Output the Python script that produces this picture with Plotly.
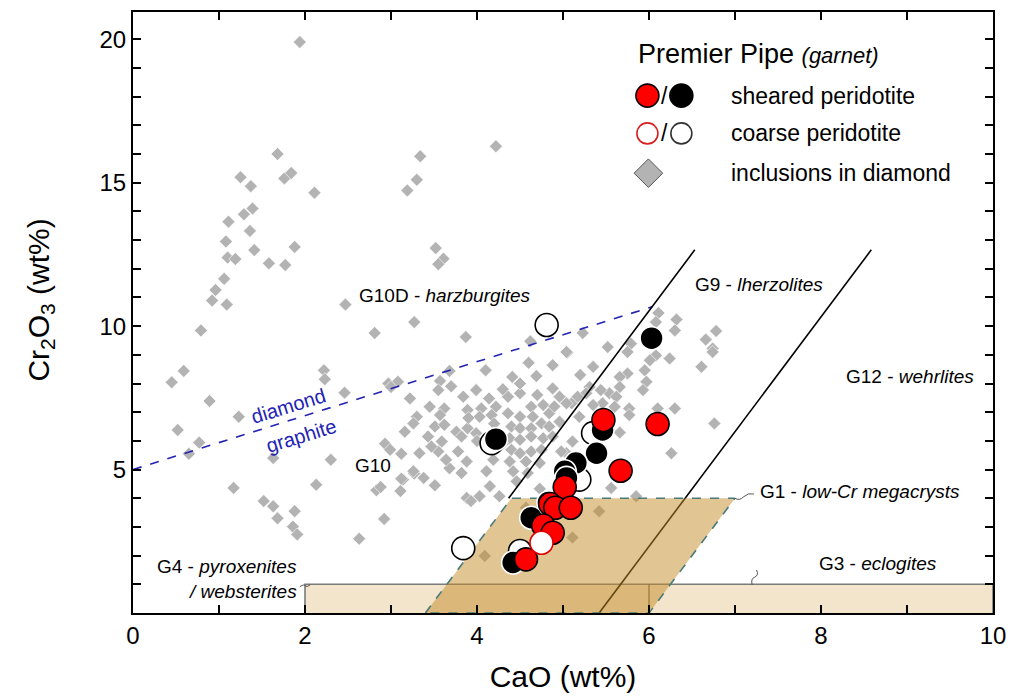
import plotly.graph_objects as go

# ---------------- data ----------------
INC_CAO = [1.94,1.68,1.25,1.37,1.76,1.84,2.11,1.11,1.29,1.39,1.08,1.36,1.10,1.19,1.41,1.58,1.77,1.88,1.06,0.96,3.34,3.30,3.19,3.52,3.61,3.55,4.22,
           0.92,1.09,2.47,0.79,2.81,0.59,0.45,2.22,2.23,2.46,2.97,0.89,1.23,0.52,0.77,0.65,1.63,2.30,2.93,1.17,2.13,2.83,2.88,1.52,1.63,1.88,1.68,1.86,1.91,2.92,2.63,
           3.14,3.27,3.38,3.51,3.11,3.88,3.93,
           3.27,3.87,4.62,5.05,4.60,4.88,4.10,3.68,4.41,4.69,3.57,3.08,3.00,3.55,3.22,3.84,3.99,4.14,4.36,4.50,4.88,4.96,5.10,3.45,3.62,3.89,4.05,4.22,4.63,4.77,
           3.30,3.57,4.03,4.17,4.36,4.50,4.65,4.84,4.96,3.16,3.26,3.51,3.62,3.76,3.89,3.99,4.40,4.50,4.63,4.75,4.84,4.38,4.50,4.63,4.77,4.88,3.43,3.59,3.82,
           3.12,3.33,3.55,3.78,3.88,4.40,4.50,4.63,4.75,4.38,4.57,4.73,4.42,4.59,4.11,4.19,3.68,3.82,3.26,
           6.11,6.32,6.08,6.30,6.78,6.66,6.74,6.61,6.74,5.79,5.75,5.52,6.08,6.01,6.24,5.35,5.04,5.23,5.95,5.75,5.66,5.97,5.66,5.93,5.54,5.31,5.27,5.44,5.62,5.77,
           5.77,5.46,5.60,5.04,5.17,5.19,5.35,6.10,6.30,6.76,5.66,5.11,6.26,5.04,
           4.57,5.11,5.42,4.09,5.85,5.56,4.73,4.46,4.03,2.99,3.12,3.47,3.64,4.15,4.26,4.98,
           4.20,4.30,4.00,4.70,3.70,4.50,5.20,4.30,4.90,3.90]
INC_CR = [19.90,16.00,15.19,14.88,15.15,15.34,14.65,13.64,13.90,14.10,12.95,13.32,12.39,12.34,12.65,12.19,12.13,12.76,11.65,11.26,15.92,15.10,14.73,12.72,12.35,12.16,16.27,
          10.89,10.75,10.75,9.85,9.76,8.44,8.04,8.46,8.15,7.68,8.00,7.39,6.84,6.38,5.94,5.55,5.40,5.34,5.90,4.36,4.47,4.28,4.39,3.90,3.72,3.55,3.30,3.01,2.74,3.28,2.59,
          4.65,4.86,4.71,4.45,4.25,4.01,3.90,
          10.14,9.62,9.47,9.08,8.72,8.64,8.46,8.44,8.23,8.26,8.09,8.06,7.88,7.77,7.48,7.54,7.77,7.48,7.54,7.66,7.83,7.54,7.31,7.19,7.13,7.08,7.13,7.19,7.19,7.25,
          6.84,6.90,6.84,6.90,6.96,6.84,6.84,6.96,6.67,6.32,6.61,6.50,6.56,6.32,6.44,6.27,6.50,6.44,6.44,6.61,6.50,6.09,6.04,6.15,6.09,6.15,6.15,5.98,6.15,
          5.55,5.57,5.63,5.63,5.28,5.69,5.57,5.63,5.69,5.28,5.28,5.23,4.94,4.88,4.94,5.34,5.05,4.88,4.94,
          10.46,10.23,10.14,9.85,9.83,9.53,9.22,8.58,9.10,9.39,9.10,9.27,8.98,8.81,8.87,8.58,9.10,9.76,8.46,8.35,8.23,8.06,7.88,7.77,7.66,7.88,7.66,7.77,7.54,7.13,
          6.90,7.31,7.19,7.31,7.54,6.84,7.25,7.13,7.13,6.61,6.29,5.98,5.57,5.57,
          3.67,2.63,3.55,1.99,4.07,4.36,4.33,4.59,4.07,5.69,4.68,5.80,5.34,4.42,4.07,5.63,
          6.60,7.80,6.00,7.60,7.90,8.00,8.30,5.90,7.20,6.80]

SHEARED_RED_CAO = [5.47, 6.10, 5.67, 5.02, 4.85, 4.91, 5.09, 4.77, 4.88, 4.57]
SHEARED_RED_CR = [6.73, 6.59, 4.96, 4.39, 3.80, 3.67, 3.67, 3.05, 2.80, 1.87]
SHEARED_BLACK_CAO = [6.03, 4.22, 5.46, 5.39, 5.15, 5.02, 5.04, 4.83, 4.63, 4.42]
SHEARED_BLACK_CR = [9.58, 6.06, 6.38, 5.57, 5.23, 4.94, 4.71, 3.85, 3.32, 1.76]
COARSE_RED_CAO = [4.75]
COARSE_RED_CR = [2.45]
COARSE_BLACK_CAO = [4.81, 3.84, 4.17, 5.35, 5.19, 4.50]
COARSE_BLACK_CR = [10.04, 2.26, 5.92, 6.27, 4.65, 2.16]

# classification boundaries (Grütter-type)
DG_SLOPE, DG_INTERCEPT = 0.94, 5.0          # diamond / graphite
G10_SLOPE, G10_INTERCEPT = 4.0, -13.47      # G10 / G9
G12_SLOPE, G12_INTERCEPT = 4.0, -21.68      # G9 / G12
LINE_TOP_CR = 12.66
G1_CAO = [3.4, 4.4, 7.0, 6.0, 3.4]
G1_CR = [0, 4, 4, 0, 0]
G3_BOX_CAO = [2, 2, 10, 10]
G3_BOX_CR = [0, 1, 1, 0]
G3_G4_DIVIDE = 6.0

FONT = "Liberation Sans, Arial, sans-serif"

fig = go.Figure()

# G3 / G4 box
fig.add_trace(go.Scatter(x=G3_BOX_CAO, y=G3_BOX_CR, mode="lines", fill="toself",
                         fillcolor="#f3e5cb", line=dict(color="#7a7a7a", width=1.6)))

# inclusions in diamond
fig.add_trace(go.Scatter(x=INC_CAO, y=INC_CR, mode="markers",
                         marker=dict(symbol="diamond", size=10, color="#b3b3b3",
                                     line=dict(color="white", width=0.6)),
                         hoverinfo="skip"))

# boundary lines
x_int = (DG_INTERCEPT - G10_INTERCEPT) / (G10_SLOPE - DG_SLOPE)
fig.add_trace(go.Scatter(x=[0, x_int], y=[DG_INTERCEPT, DG_SLOPE * x_int + DG_INTERCEPT],
                         mode="lines", line=dict(color="#2323b4", width=1.6, dash="dash")))
g10_y = [4.0, LINE_TOP_CR]
fig.add_trace(go.Scatter(x=[(v - G10_INTERCEPT) / G10_SLOPE for v in g10_y], y=g10_y,
                         mode="lines", line=dict(color="black", width=1.6)))
g12_y = [0.0, LINE_TOP_CR]
fig.add_trace(go.Scatter(x=[(v - G12_INTERCEPT) / G12_SLOPE for v in g12_y], y=g12_y,
                         mode="lines", line=dict(color="black", width=1.6)))
fig.add_trace(go.Scatter(x=[G3_G4_DIVIDE, G3_G4_DIVIDE], y=[0, 1], mode="lines",
                         line=dict(color="#6e5a3c", width=1.2)))

# G1 field
fig.add_trace(go.Scatter(x=G1_CAO, y=G1_CR, mode="lines", fill="toself",
                         fillcolor="rgba(196,140,40,0.5)",
                         line=dict(color="#4a7a78", width=1.6, dash="dash")))

# Premier samples
def circ(x, y, fill, edge):
    fig.add_trace(go.Scatter(x=x, y=y, mode="markers",
                             marker=dict(symbol="circle", size=23, color=fill,
                                         line=dict(color=edge, width=1.6))))

circ(COARSE_BLACK_CAO, COARSE_BLACK_CR, "white", "black")
circ(SHEARED_BLACK_CAO, SHEARED_BLACK_CR, "black", "white")
circ(SHEARED_RED_CAO, SHEARED_RED_CR, "#ff0000", "black")
circ(COARSE_RED_CAO, COARSE_RED_CR, "white", "#e00000")

# legend (overlay axes in pixel units of the plot area)
LEG = dict(xaxis="x2", yaxis="y2", mode="markers", cliponaxis=False, hoverinfo="skip")
fig.add_trace(go.Scatter(x=[648], y=[94], marker=dict(size=23, color="#ff0000", line=dict(color="black", width=1.6)), **LEG))
fig.add_trace(go.Scatter(x=[682], y=[94], marker=dict(size=23, color="black", line=dict(color="black", width=1.6)), **LEG))
fig.add_trace(go.Scatter(x=[648], y=[132], marker=dict(size=21, color="white", line=dict(color="#d42020", width=1.6)), **LEG))
fig.add_trace(go.Scatter(x=[682], y=[132], marker=dict(size=21, color="white", line=dict(color="#333333", width=1.6)), **LEG))
fig.add_trace(go.Scatter(x=[649], y=[172], marker=dict(symbol="diamond", size=22, color="#b3b3b3", line=dict(color="#555555", width=1)), **LEG))

ann = []
def a2(x, y, text, size=23, **kw):
    ann.append(dict(x=x, y=y, xref="x2", yref="y2", text=text, showarrow=False,
                    font=dict(family=FONT, size=size, color="black"), **kw))

a2(637, 52, "Premier Pipe <i><span style='font-size:22px'>(garnet)</span></i>", size=27, xanchor="left")
a2(665, 94, "/", size=23)
a2(665, 132, "/", size=23)
a2(730, 94, "sheared peridotite", xanchor="left")
a2(730, 132, "coarse peridotite", xanchor="left")
a2(730, 172, "inclusions in diamond", xanchor="left")

def a1(x, y, text, size=19, color="black", **kw):
    ann.append(dict(x=x, y=y, xref="x", yref="y", text=text, showarrow=False,
                    font=dict(family=FONT, size=size, color=color), **kw))

a1(3.63, 11.07, "G10D - <i>harzburgites</i>")
a1(7.28, 11.45, "G9 - <i>lherzolites</i>")
a1(9.03, 8.26, "G12 - <i>wehrlites</i>")
a1(2.79, 5.13, "G10")
a1(7.27, 4.22, "G1 - <i>low-Cr megacrysts</i>", xanchor="left")
a1(7.95, 1.72, "G3 - <i>eclogites</i>", xanchor="left")
a1(1.93, 1.63, "G4 - <i>pyroxenites</i>", xanchor="right")
a1(1.93, 0.76, "<i>/ websterites</i>", xanchor="right")
a1(1.81, 7.22, "diamond", size=20, color="#2323b4", textangle=-17)
a1(1.95, 6.18, "graphite", size=20, color="#2323b4", textangle=-17)

# y-axis title
ann.append(dict(x=-0.108, y=0.52, xref="paper", yref="paper", showarrow=False,
                text="Cr<sub>2</sub>O<sub>3</sub> (wt%)", textangle=-90,
                xanchor="center", yanchor="middle",
                font=dict(family=FONT, size=30, color="black")))

# leaders
shapes = [
    dict(type="path", xref="x", yref="y", path="M 1.94,0.92 Q 2.0,1.02 2.0,0.95 Q 2.02,0.88 2.06,0.98",
         line=dict(color="#555555", width=1)),
    dict(type="path", xref="x", yref="y", path="M 7.2,0.98 Q 7.18,1.2 7.23,1.25 Q 7.28,1.32 7.25,1.5",
         line=dict(color="#555555", width=1)),
    dict(type="path", xref="x", yref="y", path="M 7.0,4.0 Q 7.05,3.9 7.1,4.05 Q 7.15,4.2 7.22,4.15",
         line=dict(color="#555555", width=1)),
]

axis_common = dict(showline=True, linecolor="black", linewidth=2, mirror="allticks",
                   ticks="inside", ticklen=8, tickwidth=1.6, tickcolor="black",
                   showgrid=False, zeroline=False,
                   tickfont=dict(family=FONT, size=24, color="black"))

fig.update_layout(
    width=1016, height=698,
    margin=dict(l=133, r=22, t=10, b=84),
    plot_bgcolor="white", paper_bgcolor="white",
    showlegend=False,
    annotations=ann, shapes=shapes,
    xaxis=dict(range=[0, 10], tickvals=[0, 2, 4, 6, 8, 10],
               minor=dict(dtick=1, ticks="inside", ticklen=8, tickcolor="black", tickwidth=1.6),
               title=dict(text="CaO (wt%)", font=dict(family=FONT, size=30, color="black"), standoff=18),
               **axis_common),
    yaxis=dict(range=[0, 20.95], tickvals=[5, 10, 15, 20],
               minor=dict(dtick=1, ticks="inside", ticklen=8, tickcolor="black", tickwidth=1.6),
               **axis_common),
    xaxis2=dict(range=[133, 994], overlaying="x", visible=False, fixedrange=True),
    yaxis2=dict(range=[614, 10], overlaying="y", visible=False, fixedrange=True),
)

fig.write_html("out.html")
